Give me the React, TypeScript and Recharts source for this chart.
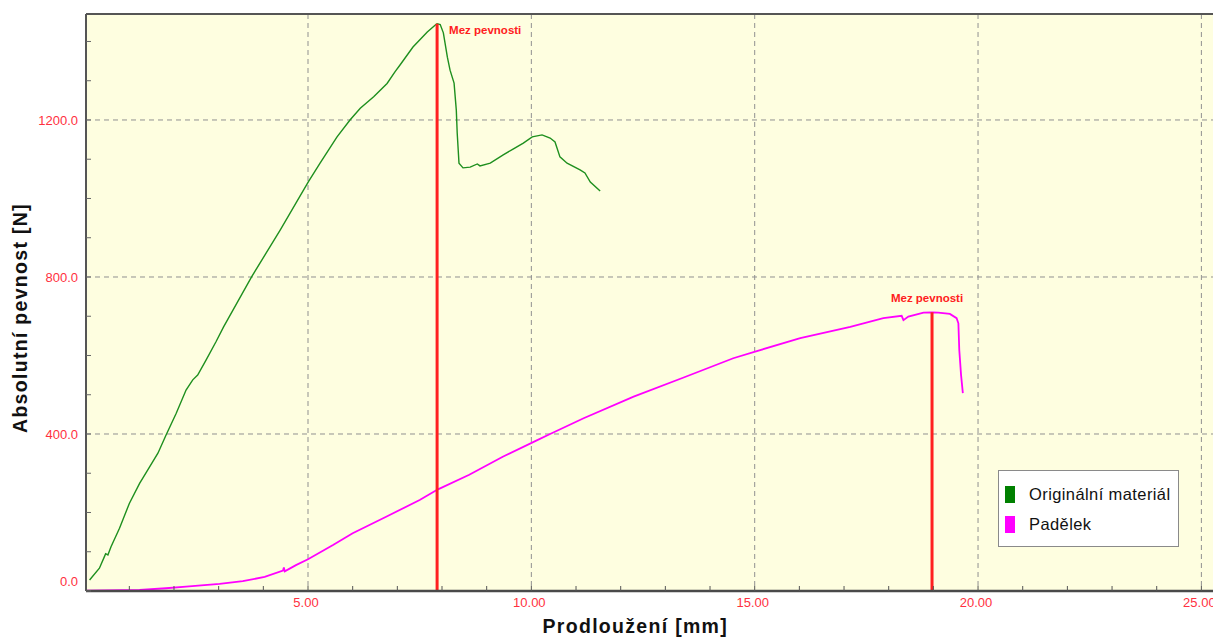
import React from 'react';
import { LineChart, Line, XAxis, YAxis, CartesianGrid, ReferenceLine, Legend, LabelList } from 'recharts';

// Originální materiál (green)
const originalElongation = [0.11, 0.33, 0.44, 0.47, 0.52, 0.59, 0.78, 1.0, 1.23, 1.41, 1.64, 1.82, 2.05, 2.27, 2.42, 2.53, 2.72, 2.94, 3.11, 3.74, 4.38, 5.01, 5.27, 5.65, 5.94, 6.17, 6.47, 6.77, 6.95, 7.06, 7.35, 7.67, 7.85, 7.89, 7.96, 8.03, 8.12, 8.18, 8.27, 8.32, 8.34, 8.38, 8.47, 8.63, 8.79, 8.85, 9.08, 9.37, 9.59, 9.82, 10.02, 10.24, 10.42, 10.53, 10.64, 10.8, 11.09, 11.2, 11.32, 11.54];
const originalForce = [28, 58, 87, 95, 92, 113, 160, 223, 274, 308, 351, 397, 453, 512, 538, 550, 589, 635, 673, 801, 920, 1043, 1090, 1157, 1200, 1230, 1259, 1293, 1323, 1340, 1386, 1424, 1442, 1445, 1443, 1422, 1360, 1327, 1294, 1225, 1167, 1090, 1078, 1080, 1088, 1083, 1090, 1111, 1126, 1141, 1157, 1162, 1154, 1144, 1106, 1090, 1073, 1065, 1042, 1019];

// Padělek (magenta)
const fakeElongation = [0.03, 1.23, 1.82, 2.27, 3.02, 3.54, 4.03, 4.44, 4.46, 4.48, 4.73, 5.0, 5.56, 6.0, 6.75, 7.5, 7.91, 8.61, 9.36, 10.11, 10.42, 11.17, 12.29, 13.41, 14.52, 15.01, 16.02, 17.14, 17.88, 18.29, 18.33, 18.44, 18.78, 18.97, 19.11, 19.37, 19.52, 19.56, 19.58, 19.62, 19.66];
const fakeForce = [1, 3, 7, 11, 18, 25, 36, 52, 60, 50, 66, 81, 117, 147, 189, 232, 259, 296, 342, 383, 400, 440, 495, 544, 593, 610, 644, 673, 695, 701, 690, 699, 709, 710, 709, 706, 695, 682, 614, 550, 504];

// Mez pevnosti (ultimate strength markers)
const peakElongation = [7.89, 18.97];
const peakForce = [1445, 710];
const peakLabel = 'Mez pevnosti';

const seriesNames = ['Originální materiál', 'Padělek'];
const seriesColors = ['#1e8f1e', '#ff00ff'];
const legendColors = ['#008000', '#ff00ff'];

const xTicks = [1, 2, 3, 4, 5, 6, 7, 8, 9, 10, 11, 12, 13, 14, 15, 16, 17, 18, 19, 20, 21, 22, 23, 24, 25];
const xGrid = [5, 10, 15, 20, 25];
const yTicks = [0, 100, 200, 300, 400, 500, 600, 700, 800, 900, 1000, 1100, 1200, 1300, 1400];
const yGrid = [400, 800, 1200];
const X_DOMAIN: [number, number] = [0.03, 25.26];
const Y_DOMAIN: [number, number] = [0, 1470];

const originalData = originalElongation.map((x, i) => ({ x, y: originalForce[i] }));
const fakeData = fakeElongation.map((x, i) => ({ x, y: fakeForce[i] }));
const peakData = peakElongation.map((x, i) => [
  { x, y: 0, label: '' },
  { x, y: peakForce[i], label: peakLabel },
]);

const FONT = '"Liberation Sans", Arial, sans-serif';
const TICK_RED = '#ff3040';

const XTick = (props: any) => {
  const { x, y, payload } = props;
  const v = payload.value as number;
  if (v % 5 !== 0) return <g />;
  return (
    <text x={x - 2} y={y} dy="0.71em" textAnchor="middle" fill={TICK_RED} fontSize={13} fontFamily={FONT}>
      {v.toFixed(2)}
    </text>
  );
};

const YTick = (props: any) => {
  const { x, y, payload } = props;
  const v = payload.value as number;
  if (v % 400 !== 0) return <g />;
  return (
    <text x={x} y={v === 0 ? y - 10 : y} dy="0.355em" textAnchor="end" fill={TICK_RED} fontSize={13} fontFamily={FONT}>
      {v.toFixed(1)}
    </text>
  );
};

const LegendBox = () => (
  <div
    style={{
      width: 181,
      height: 77,
      boxSizing: 'border-box',
      border: '1px solid #8a8a8a',
      background: '#ffffff',
      position: 'relative',
      fontFamily: FONT,
      fontSize: 16.5,
      letterSpacing: 0.4,
      color: '#111',
    }}
  >
    {seriesNames.map((name, i) => (
      <div
        key={name}
        style={{ position: 'absolute', left: 6, top: 13 + i * 30, height: 20, display: 'flex', alignItems: 'center', whiteSpace: 'nowrap' }}
      >
        <span style={{ display: 'inline-block', width: 10, height: 17, background: legendColors[i], marginRight: 14 }} />
        <span>{name}</span>
      </div>
    ))}
  </div>
);

const makePeakLabel = (idx: number) => (props: any) => {
  const { x, y, index } = props;
  if (index !== 1) return null;
  if (idx === 0) {
    return (
      <text x={x + 12} y={y + 6} dy="0.355em" textAnchor="start" fill="#ff2020" fontSize={11.5} fontWeight="bold" fontFamily={FONT}>
        {peakLabel}
      </text>
    );
  }
  return (
    <text x={x - 5} y={y - 14} dy="0.355em" textAnchor="middle" fill="#ff2020" fontSize={11.5} fontWeight="bold" fontFamily={FONT}>
      {peakLabel}
    </text>
  );
};

const titleStyle = { fontFamily: FONT, fontSize: 19.5, fontWeight: 'bold' as const, fill: '#111', letterSpacing: 1.3 };

export default function App() {
  return (
    <div style={{ position: 'absolute', left: 0, top: 0, width: 1213, height: 638, background: '#ffffff', overflow: 'hidden' }}>
      <LineChart width={1213} height={638} margin={{ top: 14, right: 0, bottom: 0, left: 0 }}>
        <CartesianGrid
          fill="#fefee0"
          stroke="#909090"
          strokeDasharray="5 4"
          horizontalValues={yGrid}
          verticalValues={xGrid}
        />
        <XAxis
          type="number"
          dataKey="x"
          domain={X_DOMAIN}
          allowDataOverflow
          ticks={xTicks}
          interval={0}
          height={47}
          tickSize={-5}
          tickMargin={12}
          axisLine={{ stroke: '#4a4a4a', strokeWidth: 2.5 }}
          tickLine={{ stroke: '#555' }}
          tick={<XTick />}
          label={{
            content: (p: any) => {
              const vb = p.viewBox || { x: 86, y: 591, width: 1127, height: 47 };
              return (
                <text x={vb.x + 642} y={vb.y + 42} textAnchor="end" style={titleStyle}>
                  Prodloužení [mm]
                </text>
              );
            },
          }}
        />
        <YAxis
          type="number"
          dataKey="y"
          domain={Y_DOMAIN}
          allowDataOverflow
          ticks={yTicks}
          interval={0}
          width={86}
          tickSize={-5}
          tickMargin={13}
          axisLine={{ stroke: '#555', strokeWidth: 2 }}
          tickLine={{ stroke: '#666' }}
          tick={<YTick />}
          label={{
            content: (p: any) => {
              const vb = p.viewBox || { x: 0, y: 14, width: 86, height: 577 };
              const bx = vb.x + 27;
              const by = vb.y + 419;
              return (
                <text transform={`translate(${bx},${by}) rotate(-90)`} textAnchor="start" style={titleStyle}>
                  Absolutní pevnost [N]
                </text>
              );
            },
          }}
        />
        <ReferenceLine y={Y_DOMAIN[1]} stroke="#555" strokeWidth={2} />
        <Legend
          layout="vertical"
          align="center"
          verticalAlign="middle"
          wrapperStyle={{ left: 998, top: 470, width: 181, height: 77 }}
          content={() => <LegendBox />}
        />
        <Line
          data={originalData}
          dataKey="y"
          name={seriesNames[0]}
          type="linear"
          stroke={seriesColors[0]}
          strokeWidth={1.4}
          dot={false}
          isAnimationActive={false}
        />
        <Line
          data={fakeData}
          dataKey="y"
          name={seriesNames[1]}
          type="linear"
          stroke={seriesColors[1]}
          strokeWidth={1.8}
          dot={false}
          isAnimationActive={false}
        />
        {peakData.map((d, i) => (
          <Line
            key={`peak-${i}`}
            data={d}
            dataKey="y"
            name={`peak-${i}`}
            legendType="none"
            type="linear"
            stroke="#ff2020"
            strokeWidth={3}
            dot={false}
            isAnimationActive={false}
          >
            <LabelList dataKey="label" content={makePeakLabel(i)} />
          </Line>
        ))}
      </LineChart>
    </div>
  );
}
